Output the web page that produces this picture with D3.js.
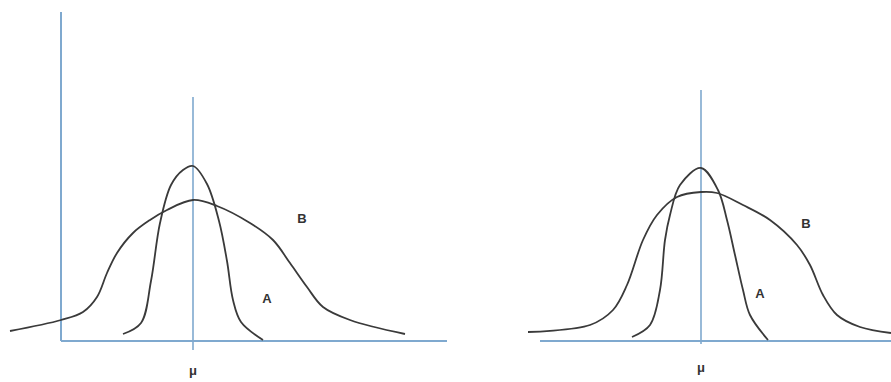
<!DOCTYPE html>
<html>
<head>
<meta charset="utf-8">
<script src="https://cdn.jsdelivr.net/npm/d3@7"></script>
<style>
  body { margin: 0; background: #fff; }
  text { font-family: "Liberation Sans", Arial, sans-serif; fill: #333; font-weight: bold; }
</style>
</head>
<body>
<script>
var svgWidth = 891;
var svgHeight = 382;

// curve points: offset from the mean, height above the baseline
var leftA = [[-70, 7], [-52, 18], [-42, 60], [-33, 118], [-22, 156], [-10, 171], [0, 175], [14, 157], [26, 120], [34, 80], [40, 41], [48, 19], [70, 1]];
var leftB = [[-183, 10], [-132, 21], [-110, 29], [-96, 44], [-86, 68], [-76, 88], [-60, 108], [-43, 121], [-26, 131], [0, 141], [24, 135], [57, 118], [80, 101], [97, 78], [114, 54], [130, 34], [157, 21], [212, 7]];
var rightA = [[-69, 4], [-51, 16], [-41, 51], [-36, 101], [-31, 126], [-21, 156], [0, 173], [17, 151], [26, 121], [34, 86], [42, 51], [49, 26], [67, 1]];
var rightB = [[-173, 9], [-111, 16], [-88, 31], [-74, 56], [-58, 101], [-44, 126], [-24, 144], [0, 149], [16, 148], [42, 136], [69, 121], [96, 96], [109, 76], [122, 46], [136, 26], [159, 14], [190, 8]];

var labelA = "A";
var labelB = "B";
var labelMu = "\u03bc";

var axisColor = "#7fa9cf";
var curveColor = "#3a3a3a";

var svg = d3.select("body")
  .append("svg")
  .attr("width", svgWidth)
  .attr("height", svgHeight);

var panels = [
  { mu: 193, base: 341, a: leftA, b: leftB, xmin: -132, xmax: 254, yAxis: true, muTop: 97, muBottom: 350,
    posA: [74, 38], posB: [109, 118], muLabel: 30 },
  { mu: 701, base: 341, a: rightA, b: rightB, xmin: -161, xmax: 190, yAxis: false, muTop: 90, muBottom: 344,
    posA: [59, 43], posB: [105, 113], muLabel: 27 }
];

panels.forEach(function(p) {
  var x = d3.scaleLinear().domain([0, 1]).range([p.mu, p.mu + 1]);
  var y = d3.scaleLinear().domain([0, 1]).range([p.base, p.base - 1]);

  var g = svg.append("g");

  // baseline
  g.append("line")
    .attr("x1", x(p.xmin)).attr("x2", x(p.xmax))
    .attr("y1", y(0)).attr("y2", y(0))
    .attr("stroke", axisColor).attr("stroke-width", 2);

  if (p.yAxis) {
    g.append("line")
      .attr("x1", x(p.xmin)).attr("x2", x(p.xmin))
      .attr("y1", y(0)).attr("y2", 12)
      .attr("stroke", axisColor).attr("stroke-width", 2);
  }

  // mean line
  g.append("line")
    .attr("x1", x(0)).attr("x2", x(0))
    .attr("y1", p.muTop).attr("y2", p.muBottom)
    .attr("stroke", axisColor).attr("stroke-width", 1.6);

  var line = d3.line()
    .x(function(d) { return x(d[0]); })
    .y(function(d) { return y(d[1]); })
    .curve(d3.curveCatmullRom.alpha(0.5));

  [p.b, p.a].forEach(function(data) {
    g.append("path")
      .datum(data)
      .attr("d", line)
      .attr("fill", "none")
      .attr("stroke", curveColor)
      .attr("stroke-width", 1.8);
  });

  g.append("text").attr("x", x(p.posA[0])).attr("y", y(p.posA[1])).attr("text-anchor", "middle")
    .attr("font-size", 13).text(labelA);
  g.append("text").attr("x", x(p.posB[0])).attr("y", y(p.posB[1])).attr("text-anchor", "middle")
    .attr("font-size", 13).text(labelB);
  g.append("text").attr("x", x(0)).attr("y", y(0) + p.muLabel + 4).attr("text-anchor", "middle")
    .attr("font-size", 13).text(labelMu);
});
</script>
</body>
</html>
